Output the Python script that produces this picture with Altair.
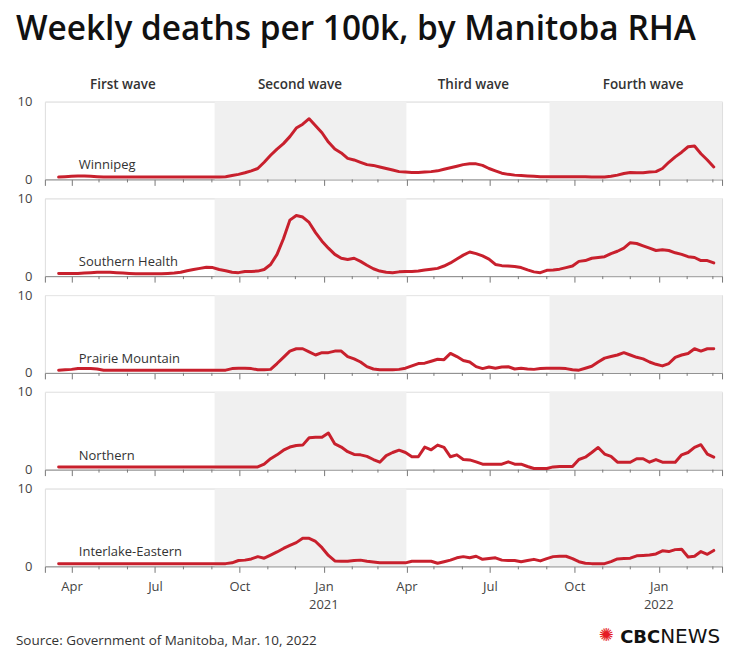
import altair as alt
import pandas as pd

# ---------------- data ----------------
dates = pd.date_range("2020-03-18", periods=103, freq="7D")

regions = ["Winnipeg", "Southern Health", "Prairie Mountain", "Northern", "Interlake-Eastern"]

winnipeg = [0.3, 0.35, 0.4, 0.45, 0.45, 0.4, 0.35, 0.3,
            0.3, 0.3, 0.3, 0.3, 0.3, 0.3, 0.3, 0.3, 0.3, 0.3, 0.3, 0.3, 0.3, 0.3, 0.3, 0.3, 0.3, 0.3,
            0.35, 0.5, 0.65, 0.85, 1.1, 1.4, 2.2, 3.1, 3.9, 4.6,
            5.5, 6.6, 7.1, 7.8, 6.9, 6.0, 4.8, 3.9, 3.4, 2.7,
            2.5, 2.2, 1.9, 1.8, 1.6, 1.4, 1.2, 1.0, 0.95, 0.9,
            0.9, 0.95, 1.0, 1.1, 1.3, 1.5, 1.7, 1.9, 2.0, 2.0,
            1.8, 1.4, 1.1, 0.8, 0.65, 0.55, 0.5, 0.45, 0.4, 0.35,
            0.35, 0.35, 0.35, 0.35, 0.35, 0.35, 0.35, 0.3, 0.3, 0.3,
            0.4, 0.55, 0.75, 0.9, 0.85, 0.85, 0.95, 1.0, 1.4, 2.2,
            2.9, 3.5, 4.2, 4.3, 3.3, 2.5, 1.6]

southern = [0.35, 0.35, 0.35, 0.35, 0.4, 0.45, 0.5, 0.5, 0.5, 0.45,
            0.4, 0.35, 0.3, 0.3, 0.3, 0.3, 0.3, 0.35, 0.4, 0.5,
            0.7, 0.85, 1.0, 1.15, 1.1, 0.85, 0.7, 0.5, 0.45, 0.6,
            0.6, 0.65, 0.85, 1.5, 2.8, 4.8, 7.2, 7.8, 7.6, 6.9,
            5.6, 4.5, 3.6, 2.8, 2.3, 2.15, 2.3, 1.9, 1.4, 0.95,
            0.65, 0.5, 0.45, 0.55, 0.6, 0.6, 0.65, 0.8, 0.9, 1.0,
            1.3, 1.7, 2.2, 2.7, 3.1, 2.9, 2.6, 2.2, 1.5, 1.35,
            1.3, 1.25, 1.1, 0.8, 0.55, 0.45, 0.75, 0.8, 0.9, 1.1,
            1.3, 1.9, 2.0, 2.3, 2.4, 2.5, 2.9, 3.2, 3.6, 4.3,
            4.2, 3.9, 3.6, 3.3, 3.4, 3.3, 3.0, 2.8, 2.5, 2.4,
            2.0, 2.0, 1.7]

prairie = [0.35, 0.4, 0.45, 0.55, 0.55, 0.55, 0.5, 0.35, 0.35, 0.35,
           0.35, 0.35, 0.35, 0.35, 0.35, 0.35, 0.35, 0.35, 0.35, 0.35,
           0.35, 0.35, 0.35, 0.35, 0.35, 0.35, 0.35, 0.55, 0.6, 0.6,
           0.55, 0.4, 0.4, 0.45, 1.2, 2.0, 2.8, 3.1, 3.1, 2.7,
           2.3, 2.6, 2.6, 2.8, 2.8, 2.1, 1.8, 1.4, 0.8, 0.5,
           0.4, 0.4, 0.4, 0.45, 0.6, 0.9, 1.2, 1.25, 1.5, 1.75,
           1.7, 2.5, 2.1, 1.6, 1.4, 0.8, 0.55, 0.75, 0.6, 0.75,
           0.8, 0.5, 0.6, 0.5, 0.45, 0.55, 0.6, 0.6, 0.6, 0.55,
           0.4, 0.35, 0.6, 0.85, 1.4, 1.9, 2.1, 2.3, 2.6, 2.3,
           2.0, 1.8, 1.4, 1.1, 0.9, 1.2, 2.0, 2.3, 2.5, 3.1,
           2.8, 3.1, 3.1]

northern = [0.35, 0.35, 0.35, 0.35, 0.35, 0.35, 0.35, 0.35, 0.35, 0.35,
            0.35, 0.35, 0.35, 0.35, 0.35, 0.35, 0.35, 0.35, 0.35, 0.35,
            0.35, 0.35, 0.35, 0.35, 0.35, 0.35, 0.35, 0.35, 0.35, 0.35,
            0.35, 0.35, 0.7, 1.4, 1.9, 2.5, 2.9, 3.1, 3.15, 4.1,
            4.15, 4.15, 4.7, 3.3, 2.9, 2.3, 1.95, 1.9, 1.7, 1.3,
            0.95, 1.8, 2.2, 2.5, 2.2, 1.65, 1.65, 2.9, 2.55, 3.15,
            2.85, 1.65, 1.9, 1.3, 1.25, 1.0, 0.7, 0.7, 0.7, 0.7,
            1.0, 0.7, 0.7, 0.4, 0.15, 0.15, 0.15, 0.35, 0.4, 0.4,
            0.4, 1.3, 1.6, 2.2, 2.85, 2.0, 1.7, 0.95, 0.95, 0.95,
            1.4, 1.4, 0.95, 1.3, 0.95, 0.95, 0.95, 1.9, 2.2, 2.85,
            3.2, 2.0, 1.6]

interlake = [0.35, 0.35, 0.35, 0.35, 0.35, 0.35, 0.35, 0.35, 0.35, 0.35,
             0.35, 0.35, 0.35, 0.35, 0.35, 0.35, 0.35, 0.35, 0.35, 0.35,
             0.35, 0.35, 0.35, 0.35, 0.35, 0.35, 0.35, 0.45, 0.75, 0.8,
             0.95, 1.25, 1.05, 1.45, 1.85, 2.3, 2.7, 3.05, 3.6, 3.6,
             3.2, 2.4, 1.4, 0.7, 0.65, 0.65, 0.75, 0.8, 0.65, 0.55,
             0.45, 0.45, 0.45, 0.45, 0.45, 0.65, 0.65, 0.65, 0.65, 0.4,
             0.6, 0.8, 1.1, 1.25, 1.1, 1.3, 0.9, 1.0, 1.1, 0.8,
             0.75, 0.75, 0.6, 0.75, 0.9, 0.7, 1.0, 1.25, 1.3, 1.3,
             1.0, 0.6, 0.4, 0.35, 0.35, 0.35, 0.6, 0.95, 1.0, 1.05,
             1.35, 1.4, 1.45, 1.6, 2.0, 1.9, 2.15, 2.2, 1.2, 1.3,
             1.9, 1.55, 2.05]

series = [winnipeg, southern, prairie, northern, interlake]

label_dates = ["2020-04-09"] * 5

wave_names = ["First wave", "Second wave", "Third wave", "Fourth wave"]
wave_label_dates = ["2020-05-27", "2020-12-06", "2021-06-13", "2021-12-15"]

shade_start = ["2020-09-04", "2021-09-04"]
shade_end = ["2021-04-01", "2022-03-11"]

year_labels = ["2021", "2022"]
year_label_dates = ["2021-01-01", "2022-01-01"]

title_text = "Weekly deaths per 100k, by Manitoba RHA"
source_text = "Source: Government of Manitoba, Mar. 10, 2022"

# ---------------- styling ----------------
FONT = "Open Sans"
RED = "#c8202d"
SHADE = "#f0f0f0"
W, H = 679, 78

x_domain = [alt.DateTime(year=2020, month=3, date=3), alt.DateTime(year=2022, month=3, date=11)]

# major (labelled) ticks each quarter, plus outer ticks at the ends of the axis
major_ticks = [alt.DateTime(year=2020, month=3, date=3)]
minor_tick_dates = []
for yr in (2020, 2021, 2022):
    for m in range(1, 13):
        if (yr == 2020 and m < 4) or (yr == 2022 and m > 3):
            continue
        if (m - 1) % 3 == 0:
            major_ticks.append(alt.DateTime(year=yr, month=m, date=1))
        else:
            minor_tick_dates.append(f"{yr}-{m:02d}-01")
major_ticks.append(alt.DateTime(year=2022, month=3, date=11))

label_expr = "date(datum.value) == 1 ? timeFormat(datum.value, '%b') : ''"


def x_axis(show_labels):
    return alt.Axis(
        values=major_ticks,
        labels=show_labels,
        labelExpr=label_expr,
        labelOverlap=False,
        labelFlush=False,
        labelBound=False,
        labelFont=FONT,
        labelFontSize=13,
        labelColor="#444",
        labelPadding=8,
        tickSize=6,
        tickColor="#777",
        domainColor="#888",
        grid=False,
        title=None,
    )


def panel(k):
    last = k == len(regions) - 1
    xa = x_axis(last)
    xs = alt.Scale(domain=x_domain)

    shade_df = pd.DataFrame({"start": pd.to_datetime(shade_start), "end": pd.to_datetime(shade_end)})
    shade = alt.Chart(shade_df).mark_rect(color=SHADE).encode(
        x=alt.X("start:T", scale=xs, axis=xa),
        x2="end:T",
        y=alt.value(0),
        y2=alt.value(H),
    )

    minor_df = pd.DataFrame({"date": pd.to_datetime(minor_tick_dates)})
    minor = alt.Chart(minor_df).mark_rule(color="#777", strokeWidth=1).encode(
        x=alt.X("date:T", scale=xs, axis=xa),
        y=alt.value(H),
        y2=alt.value(H + 3),
    )

    line_df = pd.DataFrame({"date": dates, "deaths": series[k]})
    line = alt.Chart(line_df).mark_line(color=RED, strokeWidth=3, strokeJoin="round", strokeCap="round").encode(
        x=alt.X("date:T", scale=xs, axis=xa),
        y=alt.Y("deaths:Q", scale=alt.Scale(domain=[0, 10], nice=False, zero=True),
                axis=alt.Axis(values=[0, 10], title=None, domain=False, ticks=False,
                              labelFont=FONT, labelFontSize=13, labelColor="#444", labelPadding=13,
                              grid=True,
                              gridColor={"condition": {"test": "datum.value == 10", "value": "#e8e8e8"},
                                         "value": "transparent"})),
    )

    lab_df = pd.DataFrame({"date": pd.to_datetime([label_dates[k]]), "label": [regions[k]]})
    lab = alt.Chart(lab_df).mark_text(align="left", baseline="alphabetic", font=FONT, fontSize=13,
                                      color="#333").encode(
        x=alt.X("date:T", scale=xs, axis=xa),
        y=alt.value(68),
        text="label:N",
    )

    layers = [shade, minor, line, lab]

    if k == 0:
        wave_df = pd.DataFrame({"date": pd.to_datetime(wave_label_dates), "label": wave_names})
        waves = alt.Chart(wave_df).mark_text(align="center", baseline="alphabetic", font=FONT, fontSize=13.5,
                                             fontWeight=600, color="#333").encode(
            x=alt.X("date:T", scale=xs, axis=xa),
            y=alt.value(-13),
            text="label:N",
        )
        title = alt.Chart(pd.DataFrame({"t": [title_text]})).mark_text(
            align="left", baseline="alphabetic", font=FONT, fontSize=33.5, fontWeight=600, color="#111"
        ).encode(x=alt.value(-29), y=alt.value(-62), text="t:N")
        layers += [waves, title]

    if last:
        yr_df = pd.DataFrame({"date": pd.to_datetime(year_label_dates), "label": year_labels})
        years = alt.Chart(yr_df).mark_text(align="center", baseline="alphabetic", font=FONT, fontSize=13,
                                           color="#444").encode(
            x=alt.X("date:T", scale=xs, axis=xa),
            y=alt.value(H + 43),
            text="label:N",
        )
        src = alt.Chart(pd.DataFrame({"t": [source_text]})).mark_text(
            align="left", baseline="alphabetic", font=FONT, fontSize=13.5, color="#333"
        ).encode(x=alt.value(-29), y=alt.value(157), text="t:N")
        gem = alt.Chart(pd.DataFrame({"t": ["✺"]})).mark_text(
            align="center", baseline="middle", font="DejaVu Sans", fontSize=18, color="#e51b24"
        ).encode(x=alt.value(563), y=alt.value(148), text="t:N")
        cbc = alt.Chart(pd.DataFrame({"t": ["CBC"]})).mark_text(
            align="right", baseline="alphabetic", font="DejaVu Sans", fontSize=18, fontWeight="bold",
            color="#111"
        ).encode(x=alt.value(617), y=alt.value(155), text="t:N")
        news = alt.Chart(pd.DataFrame({"t": ["NEWS"]})).mark_text(
            align="left", baseline="alphabetic", font="DejaVu Sans", fontSize=20, color="#111"
        ).encode(x=alt.value(617), y=alt.value(155), text="t:N")
        layers += [years, src, gem, cbc, news]

    return alt.layer(*layers).properties(width=W, height=H)


chart = alt.vconcat(*[panel(k) for k in range(len(regions))], spacing=19, bounds="flush").properties(
    padding={"left": 15, "top": 11, "right": 12, "bottom": 8}
).configure_view(strokeWidth=0).configure(font=FONT)

chart.save("out.html", embed_options={"renderer": "svg", "actions": False})
